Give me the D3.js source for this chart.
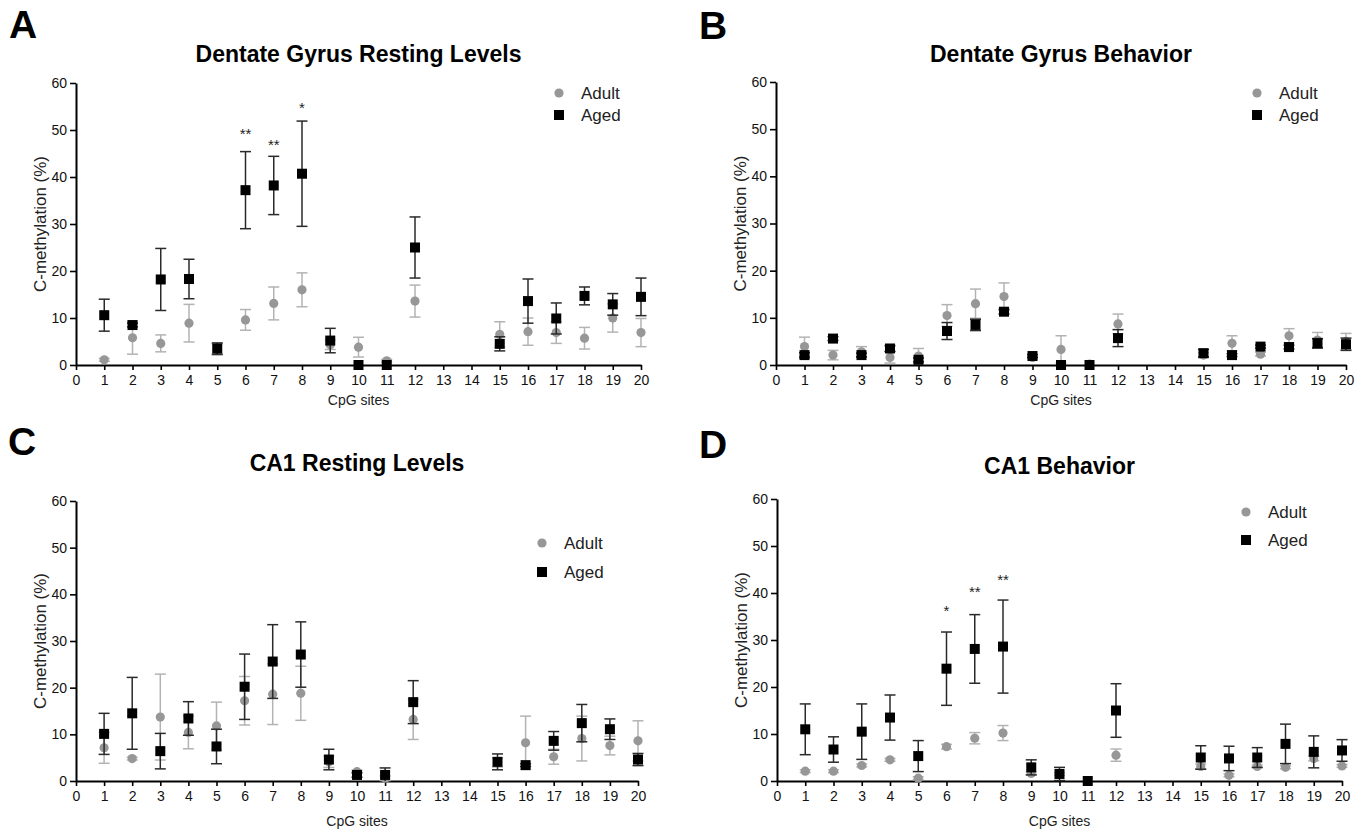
<!DOCTYPE html>
<html>
<head>
<meta charset="utf-8">
<script src="https://cdn.jsdelivr.net/npm/d3@7"></script>
<style>
  body { margin: 0; background: #fff; }
  svg { font-family: "Liberation Sans", Arial, sans-serif; }
</style>
</head>
<body>
<div id="container"></div>
<script>
// CpG sites that carry data (13 and 14 have none)
const sites = [1, 2, 3, 4, 5, 6, 7, 8, 9, 10, 11, 12, 15, 16, 17, 18, 19, 20];
const xTicks = d3.range(0, 21);
const yTicks = [0, 10, 20, 30, 40, 50, 60];

// A: Dentate Gyrus resting levels
const dgRestAdultMean = [1.1, 5.8, 4.6, 8.9, 3.3, 9.6, 13.1, 16.0, 4.3, 3.8, 0.9, 13.6, 6.5, 7.1, 6.9, 5.7, 10.0, 6.9];
const dgRestAdultSem  = [0.3, 3.5, 1.8, 4.0, 1.2, 2.2, 3.5, 3.6, 1.0, 2.1, 0.3, 3.4, 2.7, 2.9, 2.3, 2.3, 3.0, 3.0];
const dgRestAgedMean  = [10.6, 8.5, 18.2, 18.3, 3.5, 37.2, 38.2, 40.7, 5.2, 0, 0, 25.0, 4.5, 13.6, 9.9, 14.7, 12.9, 14.5];
const dgRestAgedSem   = [3.4, 0.4, 6.6, 4.2, 1.2, 8.2, 6.2, 11.2, 2.6, 0, 0, 6.5, 1.5, 4.7, 3.3, 1.9, 2.3, 4.0];
const dgRestStars = [{ site: 6, label: "**", level: 49.8 }, { site: 7, label: "**", level: 47.4 }, { site: 8, label: "*", level: 55.3 }];

// B: Dentate Gyrus behavior
const dgBehAdultMean = [3.9, 2.1, 2.8, 1.6, 1.9, 10.5, 13.0, 14.5, 1.6, 3.3, 0.2, 8.7, 2.1, 4.6, 2.3, 6.2, 5.3, 5.0];
const dgBehAdultSem  = [2.0, 1.0, 1.1, 1.2, 1.6, 2.3, 3.1, 2.9, 0.3, 2.9, 0, 2.1, 0.5, 1.6, 0.4, 1.5, 1.6, 1.7];
const dgBehAgedMean  = [2.1, 5.6, 2.1, 3.5, 1.1, 7.2, 8.5, 11.3, 1.9, 0, 0, 5.7, 2.5, 2.1, 3.9, 3.8, 4.6, 4.4];
const dgBehAgedSem   = [0.5, 0.4, 0.4, 0.6, 0.4, 1.8, 1.2, 0.5, 0.3, 0, 0, 1.8, 0.8, 0.3, 0.3, 0.4, 1.0, 1.3];

// C: CA1 resting levels
const ca1RestAdultMean = [7.1, 4.8, 13.7, 10.4, 11.8, 17.2, 18.6, 18.8, 4.1, 2.0, 0.6, 13.2, 4.0, 8.2, 5.2, 9.1, 7.6, 8.6];
const ca1RestAdultSem  = [3.3, 0.3, 9.2, 3.5, 5.1, 5.2, 6.5, 5.8, 1.2, 0.3, 0.5, 4.3, 1.0, 5.7, 1.6, 4.8, 2.0, 4.3];
const ca1RestAgedMean  = [10.1, 14.5, 6.4, 13.4, 7.4, 20.2, 25.6, 27.1, 4.6, 1.3, 1.3, 16.9, 4.1, 3.4, 8.6, 12.4, 11.1, 4.6];
const ca1RestAgedSem   = [4.4, 7.7, 3.8, 3.6, 3.7, 7.0, 7.9, 7.0, 2.2, 0.5, 1.5, 4.6, 1.7, 0.3, 2.0, 4.0, 2.2, 1.3];

// D: CA1 behavior
const ca1BehAdultMean = [2.1, 2.1, 3.3, 4.5, 0.6, 7.3, 9.1, 10.2, 1.6, 1.5, 0, 5.5, 3.1, 1.2, 3.1, 2.9, 4.8, 3.2];
const ca1BehAdultSem  = [0.3, 0.3, 0.3, 0.3, 0.3, 0.5, 1.2, 1.6, 0.3, 0.3, 0, 1.3, 0.5, 0.3, 0.3, 0.3, 0.5, 0.3];
const ca1BehAgedMean  = [11.0, 6.7, 10.5, 13.5, 5.3, 23.9, 28.1, 28.6, 2.9, 1.5, 0, 15.0, 5.0, 4.8, 5.0, 7.9, 6.2, 6.5];
const ca1BehAgedSem   = [5.4, 2.7, 5.9, 4.8, 3.3, 7.8, 7.3, 9.9, 1.6, 1.4, 0, 5.7, 2.5, 2.6, 2.1, 4.2, 3.4, 2.3];
const ca1BehStars = [{ site: 6, label: "*", level: 36.8 }, { site: 7, label: "**", level: 40.9 }, { site: 8, label: "**", level: 43.4 }];

const groups = ["Adult", "Aged"];

// panel layout
const panels = [
  { letter: "A", title: "Dentate Gyrus Resting Levels", x0: 76, x1: 641, yTop: 83, yBot: 365,
    letterX: 9, letterY: 38, titleY: 62, xLabelGap: 40, legendX: 559, legendY: 93, legendGap: 22,
    adult: [dgRestAdultMean, dgRestAdultSem], aged: [dgRestAgedMean, dgRestAgedSem], stars: dgRestStars },
  { letter: "B", title: "Dentate Gyrus Behavior", x0: 776, x1: 1346, yTop: 82, yBot: 365,
    letterX: 699, letterY: 39, titleY: 62, xLabelGap: 40, legendX: 1257, legendY: 93, legendGap: 22,
    adult: [dgBehAdultMean, dgBehAdultSem], aged: [dgBehAgedMean, dgBehAgedSem], stars: [] },
  { letter: "C", title: "CA1 Resting Levels", x0: 76, x1: 638, yTop: 501, yBot: 781,
    letterX: 8, letterY: 455, titleY: 471, xLabelGap: 45, legendX: 542, legendY: 543, legendGap: 29,
    adult: [ca1RestAdultMean, ca1RestAdultSem], aged: [ca1RestAgedMean, ca1RestAgedSem], stars: [] },
  { letter: "D", title: "CA1 Behavior", x0: 777, x1: 1342, yTop: 499, yBot: 781,
    letterX: 699, letterY: 458, titleY: 474, xLabelGap: 45, legendX: 1246, legendY: 512, legendGap: 28,
    adult: [ca1BehAdultMean, ca1BehAdultSem], aged: [ca1BehAgedMean, ca1BehAgedSem], stars: ca1BehStars }
];

const adultFill = "#979797";
const adultErr = "#b3b3b3";
const agedFill = "#000";
const agedErr = "#2a2a2a";

const svg = d3.select("#container")
  .append("svg")
  .attr("width", 1366)
  .attr("height", 833);

panels.forEach(p => {
  const g = svg.append("g");

  const x = d3.scaleLinear().domain([0, 20]).range([p.x0, p.x1]);
  const y = d3.scaleLinear().domain([0, 60]).range([p.yBot, p.yTop]);

  // panel letter and title
  g.append("text")
    .attr("x", p.letterX).attr("y", p.letterY)
    .attr("font-size", 39).attr("font-weight", "bold")
    .text(p.letter);
  g.append("text")
    .attr("x", (p.x0 + p.x1) / 2).attr("y", p.titleY)
    .attr("text-anchor", "middle")
    .attr("font-size", 23).attr("font-weight", "bold")
    .text(p.title);

  // axes
  const xAxis = g.append("g")
    .attr("transform", `translate(0,${p.yBot})`)
    .call(d3.axisBottom(x).tickValues(xTicks).tickSize(5).tickPadding(5).tickSizeOuter(0));
  const yAxis = g.append("g")
    .attr("transform", `translate(${p.x0},0)`)
    .call(d3.axisLeft(y).tickValues(yTicks).tickSize(6).tickPadding(3).tickSizeOuter(0));
  [xAxis, yAxis].forEach(a => {
    a.attr("font-family", null).attr("font-size", 14);
    a.select(".domain").attr("stroke", "#000").attr("stroke-width", 2);
    a.selectAll(".tick line").attr("stroke", "#000").attr("stroke-width", 1.6);
    a.selectAll(".tick text").attr("fill", "#111");
  });

  // axis labels
  g.append("text")
    .attr("transform", `translate(${p.x0 - 30},${(p.yTop + p.yBot) / 2}) rotate(-90)`)
    .attr("text-anchor", "middle")
    .attr("font-size", 17).attr("fill", "#222")
    .text("C-methylation (%)");
  g.append("text")
    .attr("x", (p.x0 + p.x1) / 2).attr("y", p.yBot + p.xLabelGap)
    .attr("text-anchor", "middle")
    .attr("font-size", 14).attr("fill", "#222")
    .text("CpG sites");

  const rows = (arr) => sites.map((s, i) => ({ site: s, mean: arr[0][i], sem: arr[1][i] }));

  function drawSeries(data, errColor, errWidth, markFn) {
    const eb = g.append("g").attr("stroke", errColor).attr("stroke-width", errWidth).attr("fill", "none");
    const withErr = data.filter(d => d.sem > 0);
    eb.selectAll("line.v").data(withErr).join("line")
      .attr("x1", d => x(d.site)).attr("x2", d => x(d.site))
      .attr("y1", d => y(d.mean + d.sem)).attr("y2", d => y(Math.max(0, d.mean - d.sem)));
    eb.selectAll("line.top").data(withErr).join("line")
      .attr("x1", d => x(d.site) - 5.5).attr("x2", d => x(d.site) + 5.5)
      .attr("y1", d => y(d.mean + d.sem)).attr("y2", d => y(d.mean + d.sem));
    eb.selectAll("line.bot").data(withErr.filter(d => d.mean - d.sem > 0)).join("line")
      .attr("x1", d => x(d.site) - 5.5).attr("x2", d => x(d.site) + 5.5)
      .attr("y1", d => y(d.mean - d.sem)).attr("y2", d => y(d.mean - d.sem));
    markFn(g.append("g"), data);
  }

  drawSeries(rows(p.adult), adultErr, 1.5, (sel, data) => {
    sel.selectAll("circle").data(data).join("circle")
      .attr("cx", d => x(d.site)).attr("cy", d => y(d.mean))
      .attr("r", 4.6).attr("fill", adultFill);
  });
  drawSeries(rows(p.aged), agedErr, 1.5, (sel, data) => {
    sel.selectAll("rect").data(data).join("rect")
      .attr("x", d => x(d.site) - 5).attr("y", d => y(d.mean) - 5)
      .attr("width", 10).attr("height", 10).attr("fill", agedFill);
  });

  // significance stars
  g.selectAll("text.star").data(p.stars).join("text")
    .attr("class", "star")
    .attr("x", d => x(d.site)).attr("y", d => y(d.level) + 8)
    .attr("text-anchor", "middle")
    .attr("font-size", 15).attr("fill", "#222")
    .text(d => d.label);

  // legend
  const lg = g.append("g").attr("transform", `translate(${p.legendX},${p.legendY})`);
  const items = lg.selectAll("g").data(groups).join("g")
    .attr("transform", (d, i) => `translate(0,${i * p.legendGap})`);
  items.filter(d => d === "Adult").append("circle")
    .attr("r", 4.6).attr("fill", adultFill);
  items.filter(d => d === "Aged").append("rect")
    .attr("x", -5).attr("y", -5).attr("width", 10).attr("height", 10).attr("fill", agedFill);
  items.append("text")
    .attr("x", 22).attr("y", 6)
    .attr("font-size", 17).attr("fill", "#222")
    .text(d => d);
});
</script>
</body>
</html>
